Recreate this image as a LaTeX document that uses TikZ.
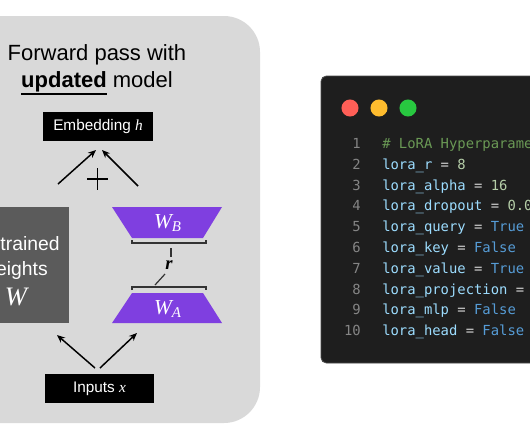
\documentclass[tikz,border=0pt]{standalone}
\usepackage{fontspec}
\setmainfont{Liberation Sans}
\setmonofont{DejaVu Sans Mono}
\newfontfamily\wfont{Liberation Serif}
\usetikzlibrary{arrows.meta}
\definecolor{panel}{HTML}{D9D9D9}
\definecolor{pwc}{HTML}{5B5B5B}
\definecolor{lora}{HTML}{7F3FE0}
\definecolor{win}{HTML}{1E1E1E}
\definecolor{winb}{HTML}{4A4A4A}
\definecolor{dred}{HTML}{FF5F57}
\definecolor{dyel}{HTML}{FEBC2E}
\definecolor{dgrn}{HTML}{28C840}
\definecolor{cnum}{HTML}{858585}
\definecolor{ccom}{HTML}{6A9955}
\definecolor{cvar}{HTML}{9CDCFE}
\definecolor{cop}{HTML}{D4D4D4}
\definecolor{cval}{HTML}{B5CEA8}
\definecolor{ckw}{HTML}{569CD6}
\newcommand\thickul[1]{\leavevmode\vtop{\hbox{#1}\kern1.2pt\hrule height 1.1pt}}
\newcommand\cV[1]{\textcolor{cvar}{#1}}
\newcommand\cO{\textcolor{cop}{=}}
\newcommand\cN[1]{\textcolor{cval}{#1}}
\newcommand\cK[1]{\textcolor{ckw}{#1}}
\newcommand\wi[1]{{\wfont\itshape #1}}
\tikzset{
  blackbox/.style={fill=black, text=white, inner sep=0pt, minimum height=21.75pt,
    font=\fontsize{11.5}{13}\selectfont},
  arr/.style={-{Stealth[length=6pt,width=5pt]}, line width=1.1pt},
  trap/.style={fill=lora},
  brk/.style={line width=0.9pt, draw=black!80},
  lnum/.style={anchor=mid east, text=cnum, font=\ttfamily\fontsize{10.4}{12}\selectfont, inner sep=0pt},
  code/.style={anchor=mid west, font=\ttfamily\fontsize{10.4}{12}\selectfont, inner sep=0pt},
  wtext/.style={text=white, inner sep=0pt, anchor=base},
}
\begin{document}
\begin{tikzpicture}[x=0.75pt,y=-0.75pt]
\useasboundingbox (0,0) rectangle (530,443);
\clip (0,0) rectangle (530,443);
% gray panel
\fill[panel, rounded corners=27pt] (-60,16) rectangle (260,423);
% title
\node[anchor=base, inner sep=0pt, font=\fontsize{16.5}{20}\selectfont] (t1) at (97,60) {Forward pass with};
\node[anchor=base, inner sep=0pt, font=\fontsize{16.5}{20}\selectfont] (t2) at (97,87) {\thickul{\textbf{updated}} model};
% embedding
\node[blackbox, minimum width=82.5pt] (emb) at (98,126.5) {Embedding \wi{h}};
\coordinate (eL) at (96,150);
\coordinate (eR) at (102,150);
\coordinate (sL) at (58,184);
\coordinate (sR) at (138,186);
\draw[arr] (sL) -- (eL);
\draw[arr] (sR) -- (eR);
% plus
\coordinate (plus) at (97.5,179);
\draw[line width=1.3pt] ([xshift=-10.5*0.75pt]plus) -- ([xshift=10.5*0.75pt]plus);
\draw[line width=1.3pt] ([yshift=11*0.75pt]plus) -- ([yshift=-11*0.75pt]plus);
% pretrained weights
\node[fill=pwc, minimum width=82.5pt, minimum height=87pt, inner sep=0pt] (pre) at (14,265) {};
\node[wtext, font=\fontsize{14.5}{17}\selectfont] (p1) at (15,250) {Pretrained};
\node[wtext, font=\fontsize{14.5}{17}\selectfont] (p2) at (15,275) {weights};
\node[wtext, font=\fontsize{20}{22}\selectfont] (p3) at (16,305) {\wi{W}};
% W_B
\fill[trap] (112,207) -- (222,207) -- (203,238) -- (132,238) -- cycle;
\node[wtext, font=\fontsize{16}{18}\selectfont] (wb) at (168,228) {\wi{W}\textsubscript{\wi{B}}};
% W_A
\fill[trap] (132,293) -- (203,293) -- (222,323) -- (112,323) -- cycle;
\node[wtext, font=\fontsize{16}{18}\selectfont] (wa) at (168,314) {\wi{W}\textsubscript{\wi{A}}};
% rank bracket
\draw[brk] (132,240) -- (132,243) -- (206,243) -- (206,240);
\draw[brk] (171,248) -- (171,257);
\node[inner sep=0pt, font=\fontsize{14}{16}\selectfont] (r) at (169,265) {\wi{\textbf{r}}};
\draw[brk] (165,274) -- (155,285);
\draw[brk] (132,290) -- (132,287) -- (206,287) -- (206,290);
% inputs
\node[blackbox, minimum width=81.75pt] (inp) at (99.5,388.5) {Inputs \wi{x}};
\coordinate (iL) at (95,368);
\coordinate (iR) at (100,368);
\coordinate (tL) at (57,335);
\coordinate (tR) at (137,333);
\draw[arr] (iL) -- (tL);
\draw[arr] (iR) -- (tR);
% code window
\draw[winb, fill=win, line width=0.6pt, rounded corners=4pt] (321,76) rectangle (620,363);
\fill[dred] (350,108) circle (6.4pt);
\fill[dyel] (379,108) circle (6.4pt);
\fill[dgrn] (408,108) circle (6.4pt);
\foreach \i in {1,...,10} {
  \node[lnum] (n\i) at (361,{145+(\i-1)*20.8}) {\i};
}
\node[code] (c1) at (382,145) {\textcolor{ccom}{\# LoRA Hyperparameters}};
\node[code] (c2) at (382,165.8) {\cV{lora\_r} \cO{} \cN{8}};
\node[code] (c3) at (382,186.6) {\cV{lora\_alpha} \cO{} \cN{16}};
\node[code] (c4) at (382,207.4) {\cV{lora\_dropout} \cO{} \cN{0.05}};
\node[code] (c5) at (382,228.2) {\cV{lora\_query} \cO{} \cK{True}};
\node[code] (c6) at (382,249) {\cV{lora\_key} \cO{} \cK{False}};
\node[code] (c7) at (382,269.8) {\cV{lora\_value} \cO{} \cK{True}};
\node[code] (c8) at (382,290.6) {\cV{lora\_projection} \cO{} \cK{False}};
\node[code] (c9) at (382,311.4) {\cV{lora\_mlp} \cO{} \cK{False}};
\node[code] (c10) at (382,332.2) {\cV{lora\_head} \cO{} \cK{False}};
\end{tikzpicture}
\end{document}
